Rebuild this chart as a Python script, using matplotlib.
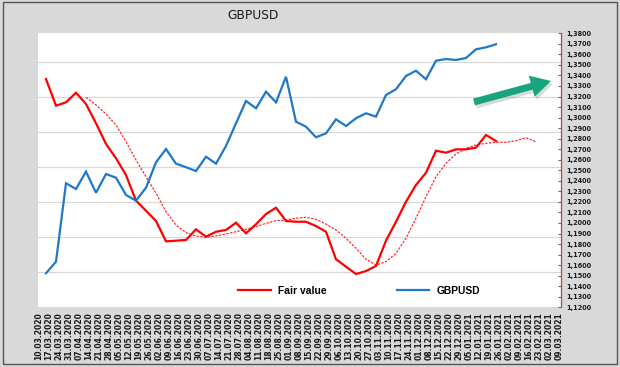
import matplotlib
matplotlib.use("Agg")
import matplotlib.pyplot as plt
import numpy as np
from matplotlib.patches import FancyArrow, Rectangle
from matplotlib.transforms import IdentityTransform

# ---------------- data ----------------
date_labels = [
    "10.03.2020", "17.03.2020", "24.03.2020", "31.03.2020", "07.04.2020", "14.04.2020",
    "21.04.2020", "28.04.2020", "05.05.2020", "12.05.2020", "19.05.2020", "26.05.2020",
    "02.06.2020", "09.06.2020", "16.06.2020", "23.06.2020", "30.06.2020", "07.07.2020",
    "14.07.2020", "21.07.2020", "28.07.2020", "04.08.2020", "11.08.2020", "18.08.2020",
    "25.08.2020", "01.09.2020", "08.09.2020", "15.09.2020", "22.09.2020", "29.09.2020",
    "06.10.2020", "13.10.2020", "20.10.2020", "27.10.2020", "03.11.2020", "10.11.2020",
    "17.11.2020", "24.11.2020", "01.12.2020", "08.12.2020", "15.12.2020", "22.12.2020",
    "29.12.2020", "05.01.2021", "12.01.2021", "19.01.2021", "26.01.2021", "02.02.2021",
    "09.02.2021", "16.02.2021", "23.02.2021", "02.03.2021", "09.03.2021",
]

gbpusd = [
    1.1523, 1.1633, 1.2377, 1.2323, 1.2487, 1.2287, 1.2465, 1.2430, 1.2266, 1.2212,
    1.2335, 1.2576, 1.2702, 1.2563, 1.2529, 1.2493, 1.2629, 1.2563, 1.2731, 1.2946,
    1.3158, 1.3088, 1.3246, 1.3145, 1.3388, 1.2961, 1.2914, 1.2813, 1.2851, 1.2984,
    1.2920, 1.2994, 1.3041, 1.3009, 1.3215, 1.3269, 1.3395, 1.3445, 1.3364, 1.3540,
    1.3556, 1.3547, 1.3566, 1.3648, 1.3667, 1.3696,
]

fair_value = [
    1.3366, 1.3113, 1.3145, 1.3236, 1.3129, 1.2946, 1.2750, 1.2614, 1.2455, 1.2212,
    1.2117, 1.2019, 1.1826, 1.1832, 1.1839, 1.1940, 1.1870, 1.1917, 1.1934, 1.2003,
    1.1902, 1.1988, 1.2085, 1.2145, 1.2019, 1.2012, 1.2012, 1.1971, 1.1917, 1.1656,
    1.1585, 1.1516, 1.1544, 1.1592, 1.1832, 1.2012, 1.2202, 1.2361, 1.2477, 1.2686,
    1.2667, 1.2699, 1.2699, 1.2715, 1.2835, 1.2778,
]

# smoothed fair value, shifted forward by 4 weeks
fair_smooth_start = 4
fair_smooth = [
    1.3193, 1.3120, 1.3034, 1.2930, 1.2771, 1.2598, 1.2439, 1.2282, 1.2107, 1.1981,
    1.1908, 1.1877, 1.1864, 1.1877, 1.1896, 1.1917, 1.1940, 1.1965, 1.1997, 1.2022,
    1.2028, 1.2045, 1.2054, 1.2035, 1.1990, 1.1934, 1.1855, 1.1760, 1.1656, 1.1601,
    1.1633, 1.1712, 1.1855, 1.2045, 1.2250, 1.2439, 1.2566, 1.2655, 1.2709, 1.2740,
    1.2756, 1.2766, 1.2766, 1.2781, 1.2809, 1.2771,
]

y_min, y_max, y_step = 1.12, 1.38, 0.01
grid_levels = [1, 2, 3, 4, 5, 6, 7]     # hidden primary axis gridlines
grid_max = 7.806

# ---------------- figure ----------------
W, H = 620, 367
fig = plt.figure(figsize=(W / 100, H / 100), dpi=100, facecolor="#d9d9d9")

left_px, right_px, top_px, bot_px = 37.5, 560.7, 33.3, 307.3
ax = fig.add_axes([left_px / W, 1 - bot_px / H, (right_px - left_px) / W, (bot_px - top_px) / H])
ax2 = ax.twinx()

ax.set_facecolor("white")
ax.set_ylim(0, grid_max)
ax.set_yticks(grid_levels)
ax.grid(axis="y", color="#d9d9d9", lw=0.9)
ax.set_axisbelow(True)
ax.tick_params(axis="y", left=False, right=False, labelleft=False, labelright=False)
for s in ax.spines.values():
    s.set_visible(False)

n_dates = len(date_labels)
ax.set_xlim(-0.85, 51.47)
ax.set_xticks(np.arange(n_dates) - 0.7)
ax.set_xticklabels(date_labels, rotation=90, fontsize=5.5, fontweight="bold",
                   family="DejaVu Sans", color="#1a1a1a", va="top", ha="center")
ax.tick_params(axis="x", length=0, pad=3.6)

ax2.set_ylim(y_min, y_max)
yt = np.arange(y_min, y_max + 1e-9, y_step)
ax2.set_yticks(yt)
ax2.set_yticklabels([f"{v:.4f}".replace(".", ",") for v in yt],
                    fontsize=4.7, fontweight="bold", family="DejaVu Sans", color="#1a1a1a")
ax2.tick_params(axis="y", left=False, labelleft=False, direction="in", length=2.5,
                width=0.8, color="#a0504d", pad=4.3)
for k, s in ax2.spines.items():
    s.set_visible(k == "right")
ax2.spines["right"].set_color("#a0504d")
ax2.spines["right"].set_linewidth(0.9)

x_fair = np.arange(len(fair_value))
x_usd = np.arange(len(gbpusd))
x_smooth = np.arange(fair_smooth_start, fair_smooth_start + len(fair_smooth))

ax2.plot(x_smooth, fair_smooth, color="#ff2020", lw=0.85, ls=(0, (2, 1.2)))
l_fair, = ax2.plot(x_fair, fair_value, color="#ff0000", lw=1.6, solid_joinstyle="miter")
l_usd, = ax2.plot(x_usd, gbpusd, color="#1f78c8", lw=1.6, solid_joinstyle="miter")

ax2.legend(handles=[l_fair, l_usd], labels=["Fair value", "GBPUSD"], ncol=2,
           loc="center", bbox_to_anchor=(359 / W, 1 - 290.5 / H),
           bbox_transform=fig.transFigure, frameon=False,
           prop=dict(family="Liberation Sans", weight="bold", size=7.4),
           handlelength=3.2, handletextpad=0.7, columnspacing=6.8,
           borderpad=0, borderaxespad=0)

# title
fig.text(253 / W, 1 - 15.7 / H, "GBPUSD", ha="center", va="center",
         fontsize=8.8, family="DejaVu Sans", color="#1a1a1a")

# green arrow with shadow
ident = IdentityTransform()
x0, y0, x1, y1 = 474, H - 102, 551, H - 81
fig.add_artist(FancyArrow(x0 + 2, y0 - 3, x1 - x0, y1 - y0, width=7, head_width=22,
                          head_length=20, length_includes_head=True,
                          color="#888888", alpha=0.3, lw=0, transform=ident))
fig.add_artist(FancyArrow(x0, y0, x1 - x0, y1 - y0, width=7, head_width=22,
                          head_length=20, length_includes_head=True,
                          color="#18a47f", lw=0, transform=ident))

# outer frame
fig.add_artist(Rectangle((2.5, 3.5), 614, 362, fill=False, edgecolor="#555555",
                         lw=1, transform=ident))

fig.savefig("out.png", dpi=100, facecolor=fig.get_facecolor())
